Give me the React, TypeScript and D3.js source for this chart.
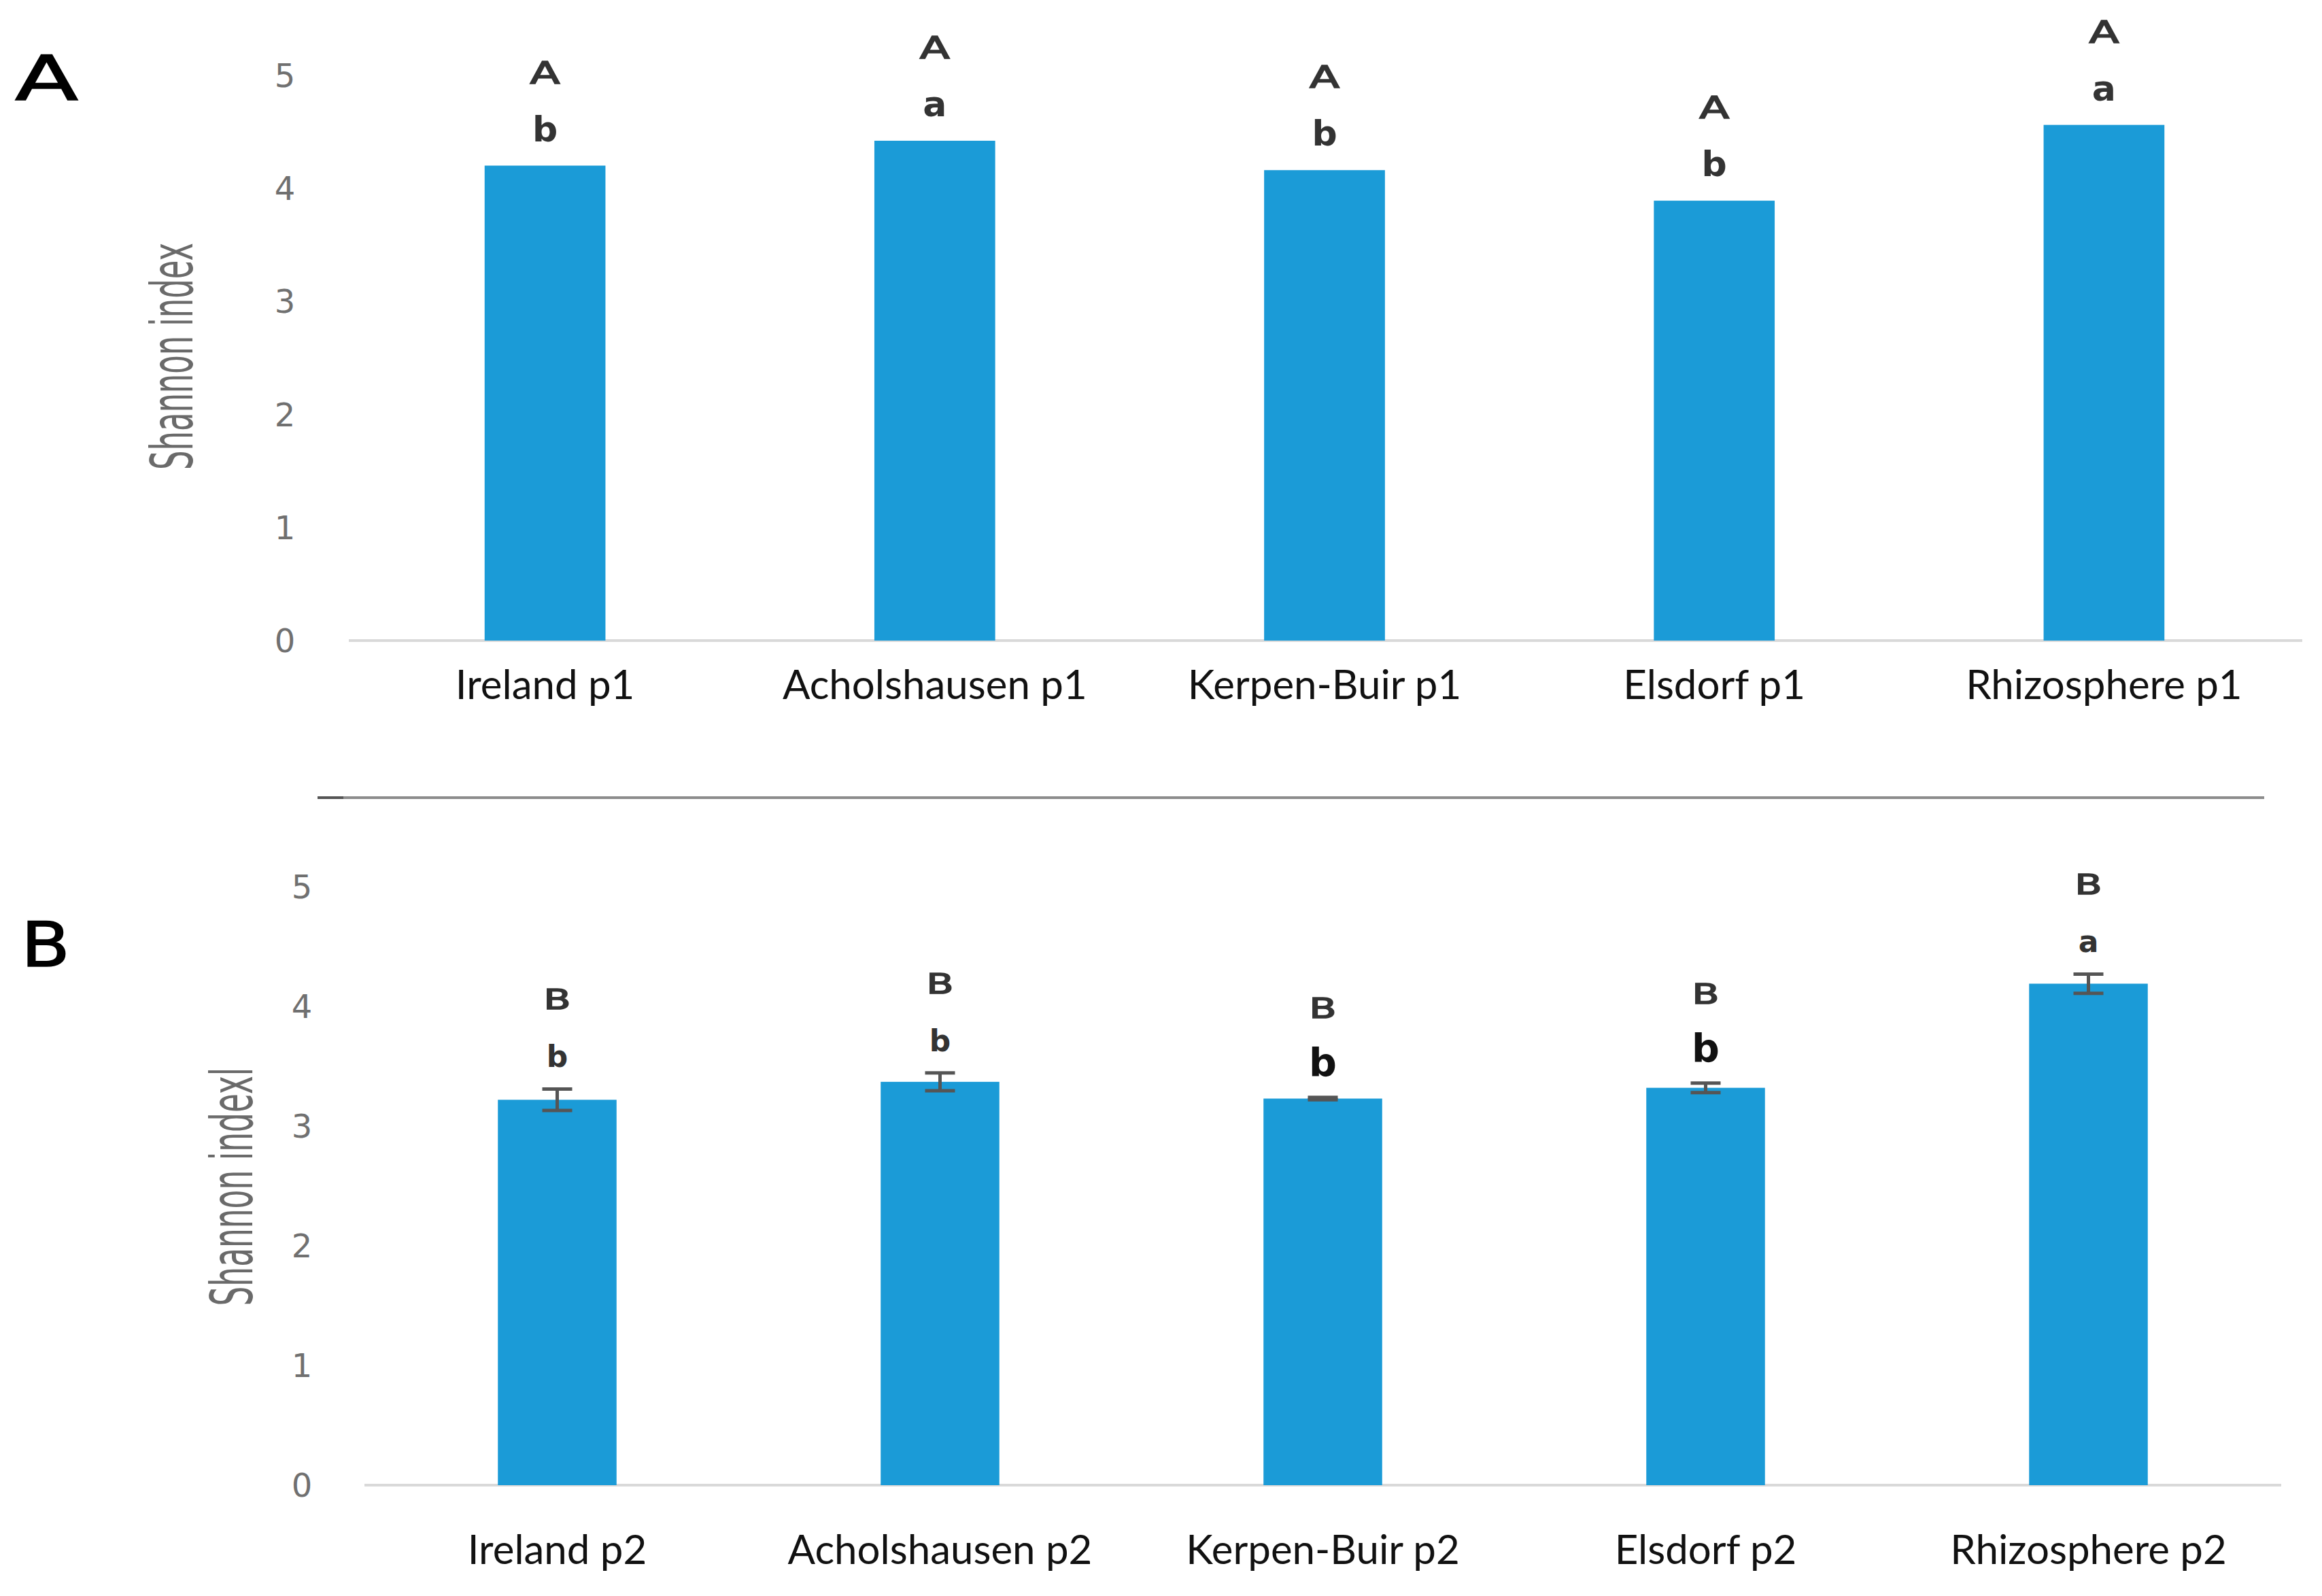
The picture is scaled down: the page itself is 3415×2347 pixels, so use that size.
import React from "react";
import * as d3 from "d3";

const catsA = ["Ireland p1", "Acholshausen p1", "Kerpen-Buir p1", "Elsdorf p1", "Rhizosphere p1"];
const valuesA = [4.2, 4.42, 4.16, 3.89, 4.56];
const upperA = ["A", "A", "A", "A", "A"];
const lowerA = ["b", "a", "b", "b", "a"];

const catsB = ["Ireland p2", "Acholshausen p2", "Kerpen-Buir p2", "Elsdorf p2", "Rhizosphere p2"];
const valuesB = [3.22, 3.37, 3.23, 3.32, 4.19];
const errorsB = [0.09, 0.075, 0.01, 0.04, 0.08];
const upperB = ["B", "B", "B", "B", "B"];
const lowerB = ["b", "b", "b", "b", "a"];

const yTicks = [0, 1, 2, 3, 4, 5];

const BAR = "#1b9bd7";
const AXIS = "#d9d9d9";
const TICK = "#707070";
const LETTER = "#333333";

type PanelProps = {
  cats: string[];
  values: number[];
  errors?: number[];
  upper: string[];
  lower: string[];
  xRange: [number, number];
  axisExt: [number, number];
  yRange: [number, number];
  tickX: number;
  labelBaseline: number;
  yLabel: string;
  yLabelX: number;
  yLabelY: number;
  yLabelLen: number;
  panel: string;
  panelX: number;
  panelY: number;
  panelW: number;
  upperSize: number;
  upperW: number;
  lowerSize: number;
  bigLower?: Set<string>;
  gapLower: number;
  gapUpper: number;
};

function Panel(p: PanelProps) {
  const x = d3
    .scaleBand<string>()
    .domain(p.cats)
    .range(p.xRange)
    .paddingInner(0.69)
    .paddingOuter(0.345);
  const y = d3.scaleLinear().domain([0, 5]).range(p.yRange);
  const bw = x.bandwidth();
  return (
    <g>
      <text
        x={p.panelX}
        y={p.panelY}
        fontFamily="DejaVu Sans"
        fontSize={90}
        fill="#000"
        stroke="#000"
        strokeWidth={1.5}
        textLength={p.panelW}
        lengthAdjust="spacingAndGlyphs"
      >
        {p.panel}
      </text>
      <text
        transform={`translate(${p.yLabelX},${p.yLabelY}) rotate(-90)`}
        textAnchor="middle"
        fontFamily="Liberation Sans Narrow, DejaVu Sans Condensed, sans-serif"
        fontSize={86}
        fill="#6a6a6a"
        textLength={p.yLabelLen}
        lengthAdjust="spacingAndGlyphs"
      >
        {p.yLabel}
      </text>
      {yTicks.map((t) => (
        <text
          key={t}
          x={p.tickX}
          y={y(t)}
          dy="0.36em"
          textAnchor="middle"
          fontFamily="DejaVu Sans"
          fontSize={48}
          fill={TICK}
        >
          {t}
        </text>
      ))}
      <line x1={p.axisExt[0]} x2={p.axisExt[1]} y1={y(0)} y2={y(0)} stroke={AXIS} strokeWidth={4} />
      {p.cats.map((c, i) => {
        const v = p.values[i];
        const e = p.errors ? p.errors[i] : 0;
        const cx = (x(c) as number) + bw / 2;
        const lowBase = y(v + e) - p.gapLower;
        const big = p.bigLower && p.bigLower.has(c);
        return (
          <g key={c}>
            <rect x={x(c)} y={y(v)} width={bw} height={y(0) - y(v)} fill={BAR} />
            {p.errors && (
              <g stroke="#555" strokeWidth={5}>
                <line x1={cx} x2={cx} y1={y(v - e)} y2={y(v + e)} />
                <line x1={cx - 22} x2={cx + 22} y1={y(v - e)} y2={y(v - e)} />
                <line x1={cx - 22} x2={cx + 22} y1={y(v + e)} y2={y(v + e)} />
              </g>
            )}
            <text
              x={cx}
              y={lowBase}
              textAnchor="middle"
              fontFamily="DejaVu Sans"
              fontWeight="bold"
              fontSize={big ? p.lowerSize * 1.3 : p.lowerSize}
              fill={big ? "#111" : LETTER}
            >
              {p.lower[i]}
            </text>
            <text
              x={cx}
              y={lowBase - p.gapUpper}
              textAnchor="middle"
              fontFamily="DejaVu Sans"
              fontSize={p.upperSize}
              fill={LETTER}
              stroke={LETTER}
              strokeWidth={1.6}
              textLength={p.upperW}
              lengthAdjust="spacingAndGlyphs"
            >
              {p.upper[i]}
            </text>
            <text
              x={cx}
              y={p.labelBaseline}
              textAnchor="middle"
              fontFamily="Lato, sans-serif"
              fontSize={60}
              fill="#111"
            >
              {c}
            </text>
          </g>
        );
      })}
    </g>
  );
}

export default function App() {
  return (
    <svg
      width={3415}
      height={2347}
      style={{ position: "absolute", left: 0, top: 0, background: "#fff" }}
    >
      <rect width={3415} height={2347} fill="#fff" />
      <Panel
        cats={catsA}
        values={valuesA}
        upper={upperA}
        lower={lowerA}
        xRange={[515, 3381]}
        axisExt={[513, 3386]}
        yRange={[942, 110.5]}
        tickX={419}
        labelBaseline={1028}
        yLabel="Shannon index"
        yLabelX={283}
        yLabelY={524}
        yLabelLen={334}
        panel="A"
        panelX={22}
        panelY={147}
        panelW={93}
        upperSize={44}
        upperW={44}
        lowerSize={52}
        gapLower={36}
        gapUpper={85}
      />
      <line x1={467} x2={3330} y1={1173} y2={1173} stroke="#8c8c8c" strokeWidth={4} />
      <line x1={467} x2={505} y1={1173} y2={1173} stroke="#555" strokeWidth={4} />
      <Panel
        cats={catsB}
        values={valuesB}
        errors={errorsB}
        upper={upperB}
        lower={lowerB}
        xRange={[538, 3353]}
        axisExt={[536, 3355]}
        yRange={[2184, 1304]}
        tickX={444}
        labelBaseline={2300}
        yLabel="Shannon indexl"
        yLabelX={371}
        yLabelY={1745}
        yLabelLen={351}
        panel="B"
        panelX={31}
        panelY={1421}
        panelW={72}
        upperSize={40}
        upperW={40}
        lowerSize={44}
        bigLower={new Set(["Kerpen-Buir p2", "Elsdorf p2"])}
        gapLower={32}
        gapUpper={85}
      />
    </svg>
  );
}
